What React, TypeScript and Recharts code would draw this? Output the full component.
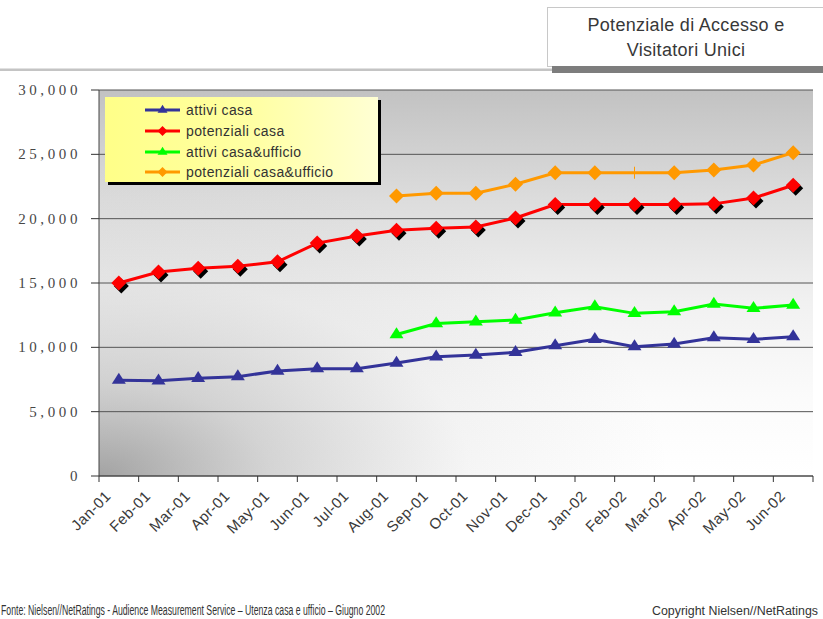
import React from 'react';
import { LineChart, Line, XAxis, YAxis, CartesianGrid, Legend } from 'recharts';

// Months on the category axis
const months = [
  'Jan-01', 'Feb-01', 'Mar-01', 'Apr-01', 'May-01', 'Jun-01', 'Jul-01', 'Aug-01', 'Sep-01',
  'Oct-01', 'Nov-01', 'Dec-01', 'Jan-02', 'Feb-02', 'Mar-02', 'Apr-02', 'May-02', 'Jun-02',
];

// Series values (thousands of people)
const attiviCasa = [7450, 7400, 7600, 7720, 8160, 8340, 8340, 8780, 9270, 9400, 9610, 10130, 10620, 10050, 10260, 10750, 10620, 10830];
const potenzialiCasa = [15000, 15850, 16150, 16300, 16650, 18100, 18650, 19100, 19250, 19350, 20050, 21100, 21100, 21100, 21100, 21150, 21600, 22600];
const attiviCasaUfficio = [null, null, null, null, null, null, null, 11000, 11850, 11990, 12120, 12690, 13160, 12640, 12770, 13370, 13030, 13290];
const potenzialiCasaUfficio = [null, null, null, null, null, null, null, 21760, 21970, 21970, 22670, 23570, 23570, 23570, 23570, 23780, 24170, 25130];

// Months where the orange series shows no marker
const orangeNoMarker = ['Feb-02'];

const yTicks = [0, 5000, 10000, 15000, 20000, 25000, 30000];

const titleLines = ['Potenziale di Accesso e', 'Visitatori Unici'];
const sourceNote = 'Fonte: Nielsen//NetRatings - Audience Measurement Service \u2013 Utenza casa e ufficio \u2013 Giugno  2002';
const copyrightNote = 'Copyright Nielsen//NetRatings';

const series = [
  { key: 'attiviCasa', name: 'attivi casa', color: '#333399', shape: 'triangle', shadow: false },
  { key: 'potenzialiCasa', name: 'potenziali casa', color: '#ff0000', shape: 'diamond', shadow: true },
  { key: 'attiviCasaUfficio', name: 'attivi casa&ufficio', color: '#00ff00', shape: 'triangle', shadow: false },
  { key: 'potenzialiCasaUfficio', name: 'potenziali casa&ufficio', color: '#ff9900', shape: 'diamond', shadow: false },
];

const data = months.map((m, i) => ({
  month: m,
  attiviCasa: attiviCasa[i],
  potenzialiCasa: potenzialiCasa[i],
  attiviCasaUfficio: attiviCasaUfficio[i],
  potenzialiCasaUfficio: potenzialiCasaUfficio[i],
}));

const W = 823;
const H = 619;
const PLOT_LEFT = 99;
const PLOT_RIGHT = 813;
const HALF_STEP = (PLOT_RIGHT - PLOT_LEFT) / months.length / 2;

function markerPoints(shape: string, cx: number, cy: number, w: number, h: number) {
  if (shape === 'triangle') {
    return `${cx},${cy - (h * 2) / 3} ${cx + w / 2},${cy + h / 3} ${cx - w / 2},${cy + h / 3}`;
  }
  return `${cx},${cy - h / 2} ${cx + w / 2},${cy} ${cx},${cy + h / 2} ${cx - w / 2},${cy}`;
}

function Marker({ shape, cx, cy, color, shadow, w, h }: any) {
  return (
    <g>
      {shadow && <polygon points={markerPoints(shape, cx + 2.5, cy + 3, w, h)} fill="#000" />}
      <polygon points={markerPoints(shape, cx, cy, w, h)} fill={color} />
    </g>
  );
}

function makeDot(s: any) {
  return (p: any) => {
    const { cx, cy, payload, index } = p;
    const k = `${s.key}-${index}`;
    if (cx == null || cy == null || payload == null || payload[s.key] == null) return <g key={k} />;
    if (s.key === 'potenzialiCasaUfficio' && orangeNoMarker.includes(payload.month)) {
      return <line key={k} x1={cx} x2={cx} y1={cy - 6} y2={cy + 6} stroke={s.color} strokeWidth={1} />;
    }
    const w = s.shape === 'triangle' ? 14 : 15;
    const h = s.shape === 'triangle' ? 11 : 15;
    return (
      <g key={k}>
        <Marker shape={s.shape} cx={cx} cy={cy} color={s.color} shadow={s.shadow} w={w} h={h} />
      </g>
    );
  };
}

function MonthTick(props: any) {
  const { x, y, payload, index } = props;
  return (
    <g>
      <line x1={x - HALF_STEP} x2={x - HALF_STEP} y1={y} y2={y + 6} stroke="#333" strokeWidth={1} />
      {index === months.length - 1 && (
        <line x1={x + HALF_STEP} x2={x + HALF_STEP} y1={y} y2={y + 6} stroke="#333" strokeWidth={1} />
      )}
      <text
        transform={`translate(${x - 7},${y + 21}) rotate(-45)`}
        textAnchor="end"
        fontFamily="'Liberation Sans', Arial, sans-serif"
        fontSize={15}
        style={{ letterSpacing: '0.5px' }}
        fill="#3a3a3a"
      >
        {payload.value}
      </text>
    </g>
  );
}

function ValueTick(props: any) {
  const { x, y, payload } = props;
  return (
    <text
      x={x + 5}
      y={y + 5}
      textAnchor="end"
      fontFamily="'Liberation Serif', 'DejaVu Serif', serif"
      fontSize={15}
      style={{ letterSpacing: '3.6px' }}
      fill="#474747"
    >
      {Number(payload.value).toLocaleString('en-US')}
    </text>
  );
}

const seriesOrder = series.map((s) => s.name);
const seriesByName: Record<string, any> = Object.fromEntries(series.map((s) => [s.name, s]));

function LegendBox(props: any) {
  const items = [...((props.payload || []) as any[])].sort(
    (a, b) => seriesOrder.indexOf(a.value) - seriesOrder.indexOf(b.value),
  );
  return (
    <div
      style={{
        width: 273,
        height: 85,
        boxSizing: 'border-box',
        background: 'linear-gradient(to right, #ffff88 0%, #ffffa4 55%, #ffffd4 100%)',
        boxShadow: '3px 3px 0 #000',
        paddingTop: 3,
      }}
    >
      {items.map((entry: any) => {
        const s = seriesByName[entry.value] || series[0];
        return (
          <div key={entry.value} style={{ display: 'flex', alignItems: 'center', height: 20.7 }}>
            <svg width={80} height={16} style={{ display: 'block' }}>
              <line x1={40} x2={75} y1={8} y2={8} stroke={s.color} strokeWidth={3} />
              <Marker shape={s.shape} cx={57.5} cy={8} color={s.color} shadow={false} w={10} h={s.shape === 'triangle' ? 8 : 10} />
            </svg>
            <span
              style={{
                fontFamily: "'Liberation Sans', Arial, sans-serif",
                fontSize: 14,
                letterSpacing: 0.4,
                color: '#333',
                marginLeft: 1,
                lineHeight: '16px',
              }}
            >
              {entry.value}
            </span>
          </div>
        );
      })}
    </div>
  );
}

export default function App() {
  return (
    <div style={{ position: 'absolute', left: 0, top: 0, width: W, height: H, background: '#fff', overflow: 'hidden' }}>
      <LineChart width={W} height={H} data={data} margin={{ top: 90, right: 10, bottom: 83, left: 0 }}>
        <defs>
          {/* plot shading: grey at the top fading to white at the bottom, darkened toward the lower-left corner */}
          <linearGradient id="shadeV" x1="0" y1="0" x2="0" y2="1">
            <stop offset="0%" stopColor="#c2c2c2" />
            <stop offset="28%" stopColor="#dcdcdc" />
            <stop offset="55%" stopColor="#f1f1f1" />
            <stop offset="80%" stopColor="#fbfbfb" />
            <stop offset="100%" stopColor="#ffffff" />
          </linearGradient>
          <radialGradient id="shadeCorner" cx="0" cy="1" r="0.8" fx="0" fy="1">
            <stop offset="0%" stopColor="#6a6a6a" stopOpacity={0.62} />
            <stop offset="30%" stopColor="#7a7a7a" stopOpacity={0.32} />
            <stop offset="65%" stopColor="#888888" stopOpacity={0.08} />
            <stop offset="100%" stopColor="#888888" stopOpacity={0} />
          </radialGradient>
          <pattern id="plotBg" patternUnits="objectBoundingBox" patternContentUnits="objectBoundingBox" width="1" height="1">
            <rect x="0" y="0" width="1" height="1" fill="url(#shadeV)" />
            <rect x="0" y="0" width="1" height="1" fill="url(#shadeCorner)" />
          </pattern>
        </defs>
        <CartesianGrid vertical={false} stroke="#555" fill="url(#plotBg)" fillOpacity={1} />
        <XAxis
          dataKey="month"
          interval={0}
          padding={{ left: HALF_STEP, right: HALF_STEP }}
          height={60}
          tickSize={0}
          tickMargin={0}
          tickLine={false}
          axisLine={{ stroke: '#444', strokeWidth: 1 }}
          tick={<MonthTick />}
        />
        <YAxis
          width={99}
          domain={[0, 30000]}
          ticks={yTicks}
          interval={0}
          tickSize={8}
          tickMargin={15}
          axisLine={{ stroke: '#444', strokeWidth: 1 }}
          tickLine={{ stroke: '#333', strokeWidth: 1 }}
          tick={<ValueTick />}
        />
        <YAxis
          yAxisId="frame"
          orientation="right"
          width={0}
          domain={[0, 30000]}
          tick={false}
          tickLine={false}
          axisLine={{ stroke: '#888', strokeWidth: 1.5 }}
        />
        <Legend
          layout="vertical"
          align="center"
          verticalAlign="middle"
          content={<LegendBox />}
          wrapperStyle={{ position: 'absolute', left: 105, top: 97, width: 273, height: 85 }}
        />
        {series.map((s) => (
          <Line
            key={s.key}
            dataKey={s.key}
            name={s.name}
            stroke={s.color}
            strokeWidth={3}
            dot={makeDot(s)}
            activeDot={false}
            isAnimationActive={false}
            type="linear"
          />
        ))}
      </LineChart>

      <svg width={W} height={H} style={{ position: 'absolute', left: 0, top: 0, pointerEvents: 'none' }}>
        <rect x={0} y={68.5} width={556} height={2.5} fill="#c4c4c4" />
        <rect x={547.5} y={7.5} width={280} height={59} fill="#fff" stroke="#c8c8c8" strokeWidth={1} />
        <rect x={552} y={66} width={271} height={7} fill="#7d7d7d" />
        {titleLines.map((t, i) => (
          <text
            key={t}
            x={686}
            y={31 + i * 25}
            textAnchor="middle"
            fontFamily="'Liberation Sans', Arial, sans-serif"
            fontSize={18}
            letterSpacing={0.3}
            fill="#383838"
          >
            {t}
          </text>
        ))}
        <text
          x={1}
          y={615}
          fontFamily="'Liberation Sans Narrow', 'Liberation Sans', Arial, sans-serif"
          fontSize={14}
          textLength={384}
          lengthAdjust="spacingAndGlyphs"
          fill="#333"
        >
          {sourceNote}
        </text>
        <text
          x={652}
          y={615}
          fontFamily="'Liberation Sans', Arial, sans-serif"
          fontSize={12.5}
          textLength={166}
          lengthAdjust="spacingAndGlyphs"
          fill="#333"
        >
          {copyrightNote}
        </text>
      </svg>
    </div>
  );
}
